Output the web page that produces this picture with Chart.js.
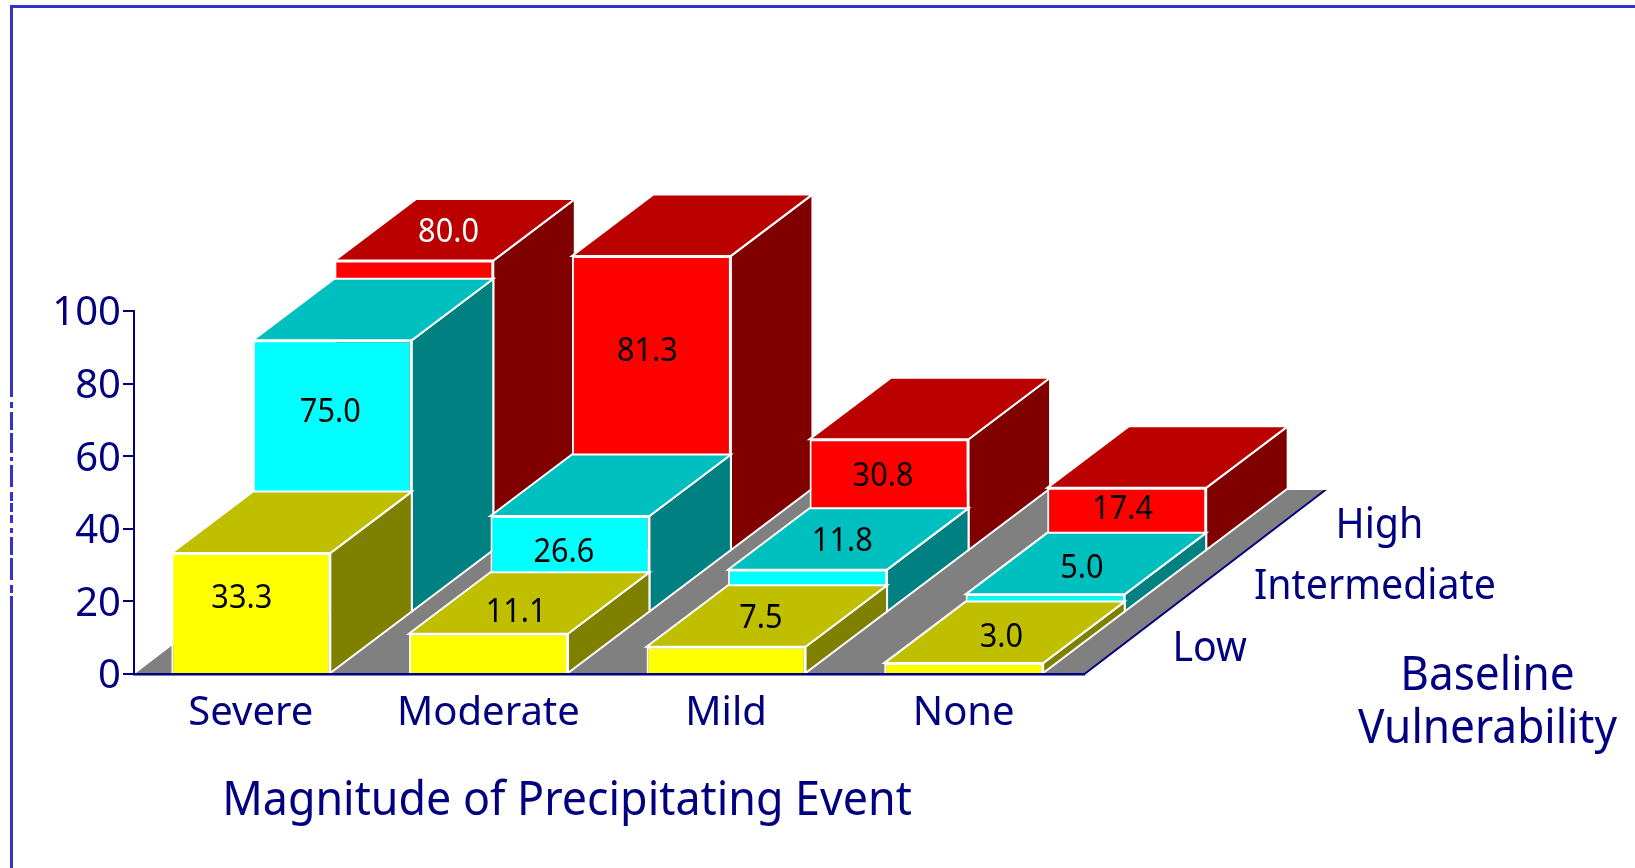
<!DOCTYPE html>
<html>
<head>
<meta charset="utf-8">
<title>Magnitude of Precipitating Event</title>
<script src="https://cdn.jsdelivr.net/npm/chart.js@4/dist/chart.umd.js"></script>
<style>
  html, body { margin: 0; padding: 0; background: #fff; overflow: hidden; }
  #wrap { position: relative; width: 1635px; height: 868px; }
  #frame { position: absolute; left: 10px; top: 5px; right: 0; bottom: 0; border-left: 3px solid #3333cc; border-top: 3px solid #3333cc; }
  #mycanvas { position: absolute; left: 0; top: 0; }
</style>
</head>
<body>
<div id="wrap">
  <div id="frame"></div>
  <canvas id="mycanvas" width="1635" height="868"></canvas>
</div>
<script>
var categories = ['Severe', 'Moderate', 'Mild', 'None'];
var lowValues = [33.3, 11.1, 7.5, 3.0];
var intermediateValues = [75.0, 26.6, 11.8, 5.0];
var highValues = [80.0, 81.3, 30.8, 17.4];
var seriesNames = ['Low', 'Intermediate', 'High'];
var yTicks = [0, 20, 40, 60, 80, 100];

var xTitle = 'Magnitude of Precipitating Event';
var zTitle = ['Baseline', 'Vulnerability'];

// depth of one row in the fake 3D view
var depthX = 81.5;
var depthY = -61.5;
var barShift = -2;

var font = '"Noto Sans"';
var navy = '#000080';

var faceColors = [
    { front: '#ffff00', top: '#bfbf00', side: '#808000' },
    { front: '#00ffff', top: '#00bfbf', side: '#008080' },
    { front: '#ff0000', top: '#bb0000', side: '#800000' }
];

// a few labels sit off the middle of their face in the original
var labelNudge = {
    '33.3': [-5, -14], '26.6': [-2, 10], '11.1': [-7, 7], '30.8': [-2, 4],
    '81.3': [0, -3], '75.0': [2, -2], '3.0': [3, 2], '5.0': [2, 2]
};

// where the left frame line is broken up
var frameGaps = [[397, 402], [408, 412], [430, 433], [453, 457], [461, 465], [487, 492], [501, 503],
    [512, 515], [523, 528], [533, 537], [555, 558], [580, 585], [593, 596]];

function poly(ctx, pts, fill, stroke) {
    ctx.beginPath();
    ctx.moveTo(pts[0][0], pts[0][1]);
    for (var i = 1; i < pts.length; i++) {
        ctx.lineTo(pts[i][0], pts[i][1]);
    }
    ctx.closePath();
    ctx.fillStyle = fill;
    ctx.fill();
    if (stroke) {
        ctx.strokeStyle = stroke;
        ctx.lineWidth = 2;
        ctx.stroke();
    }
}

// the original lettering is narrower and taller than any installed font
function narrowText(ctx, text, x, y, squeeze) {
    ctx.save();
    ctx.translate(x, y);
    ctx.scale(squeeze, 1);
    ctx.fillText(text, 0, 0);
    ctx.restore();
}

var threeD = {
    id: 'threeD',
    // the floor under all the bars
    beforeDatasetsDraw: function (chart) {
        var ctx = chart.ctx;
        var a = chart.chartArea;
        var dx = depthX * seriesNames.length - 3;
        var dy = depthY * seriesNames.length;
        poly(ctx, [[a.left, a.bottom], [a.right, a.bottom], [a.right + dx, a.bottom + dy], [a.left + dx, a.bottom + dy]], '#808080');
        ctx.strokeStyle = navy;
        ctx.lineWidth = 2;
        ctx.beginPath();
        ctx.moveTo(a.right, a.bottom);
        ctx.lineTo(a.right + dx, a.bottom + dy);
        ctx.stroke();
        ctx.strokeStyle = '#ffffff';
        ctx.lineWidth = 1;
        ctx.beginPath();
        ctx.moveTo(a.left, a.bottom);
        ctx.lineTo(a.left + dx, a.bottom + dy);
        ctx.lineTo(a.right + dx, a.bottom + dy);
        ctx.stroke();
    },
    // each row is moved back, its top and side faces come before the library bar
    beforeDatasetDraw: function (chart, args) {
        var ctx = chart.ctx;
        var row = args.index;
        var colors = faceColors[row];
        ctx.save();
        ctx.translate(barShift + row * depthX, row * depthY);
        args.meta.data.forEach(function (bar) {
            var l = bar.x - bar.width / 2;
            var r = bar.x + bar.width / 2;
            var t = bar.y;
            var b = bar.base;
            poly(ctx, [[r, b], [r, t], [r + depthX, t + depthY], [r + depthX, b + depthY]], colors.side, '#ffffff');
            poly(ctx, [[l, t], [r, t], [r + depthX, t + depthY], [l + depthX, t + depthY]], colors.top, '#ffffff');
        });
    },
    afterDatasetDraw: function (chart) {
        chart.ctx.restore();
    },
    afterDatasetsDraw: function (chart) {
        var ctx = chart.ctx;
        var a = chart.chartArea;
        var y = chart.scales.y;
        var perUnit = y.getPixelForValue(0) - y.getPixelForValue(1);
        ctx.save();
        ctx.textAlign = 'center';
        ctx.textBaseline = 'middle';

        // value labels: on the front face if enough of it shows, otherwise on the top
        ctx.font = '33px ' + font;
        chart.data.datasets.forEach(function (ds, row) {
            chart.getDatasetMeta(row).data.forEach(function (bar, i) {
                var v = ds.data[i];
                var inFront = row > 0 ? chart.data.datasets[row - 1].data[i] : 0;
                var visible = Math.min(v - inFront, v) * perUnit;
                var ox = barShift + row * depthX;
                var oy = row * depthY;
                var text = v.toFixed(1);
                var nudge = labelNudge[text] || [0, 0];
                var lx, ly;
                if (visible >= 45) {
                    lx = bar.x + ox - 4;
                    ly = bar.y + oy + visible / 2 - 1;
                } else {
                    lx = bar.x + ox + depthX / 2 - 6;
                    ly = bar.y + oy + depthY / 2 + 3;
                }
                ctx.fillStyle = text === '80.0' ? '#ffffff' : '#000000';
                narrowText(ctx, text, lx + nudge[0], ly + nudge[1], 0.93);
            });
        });

        // depth axis names
        ctx.textAlign = 'left';
        ctx.fillStyle = navy;
        ctx.font = '42px ' + font;
        seriesNames.forEach(function (name, row) {
            narrowText(ctx, name, a.right + 88 + row * depthX, a.bottom - 25 + row * depthY, 0.936);
        });

        ctx.textAlign = 'center';
        ctx.font = '48px ' + font;
        narrowText(ctx, xTitle, a.left + 433, a.bottom + 127, 0.933);
        narrowText(ctx, zTitle[0], a.right + 403, a.bottom + 2, 0.92);
        narrowText(ctx, zTitle[1], a.right + 403, a.bottom + 55, 0.92);

        ctx.fillStyle = '#ffffff';
        frameGaps.forEach(function (g) {
            ctx.fillRect(10, g[0], 3, g[1] - g[0]);
        });
        ctx.restore();
    }
};

var chartdata = {
    labels: categories,
    datasets: [
        { label: seriesNames[0], data: lowValues, backgroundColor: faceColors[0].front },
        { label: seriesNames[1], data: intermediateValues, backgroundColor: faceColors[1].front },
        { label: seriesNames[2], data: highValues, backgroundColor: faceColors[2].front }
    ]
};

var barGraph = new Chart(document.getElementById('mycanvas'), {
    type: 'bar',
    data: chartdata,
    plugins: [threeD],
    options: {
        responsive: false,
        animation: false,
        events: [],
        layout: { padding: { left: 0, top: 311, right: 550.5, bottom: 94 } },
        datasets: {
            bar: {
                grouped: false,
                categoryPercentage: 0.669,
                barPercentage: 1,
                borderColor: '#ffffff',
                borderWidth: 2,
                borderSkipped: 'bottom',
                clip: false
            }
        },
        plugins: { legend: { display: false }, title: { display: false }, tooltip: { enabled: false } },
        scales: {
            x: {
                afterFit: function (scale) { scale.height = 100; },
                grid: { display: false },
                border: { display: true, color: navy, width: 2.5, z: 2 },
                ticks: {
                    color: navy,
                    padding: 8,
                    labelOffset: -2,
                    maxRotation: 0,
                    autoSkip: false,
                    font: { family: 'Noto Sans', size: 40 }
                }
            },
            y: {
                min: 0,
                max: 100,
                afterFit: function (scale) { scale.width = 134; },
                afterBuildTicks: function (scale) {
                    scale.ticks = yTicks.map(function (v) { return { value: v }; });
                },
                grid: { drawOnChartArea: false, drawTicks: true, tickLength: 11, tickColor: navy, lineWidth: 2 },
                border: { display: true, color: navy, width: 2, z: 2 },
                ticks: {
                    color: navy,
                    padding: 2,
                    labelOffset: 3,
                    font: { family: 'Noto Sans', size: 40 }
                }
            }
        }
    }
});
</script>
</body>
</html>
